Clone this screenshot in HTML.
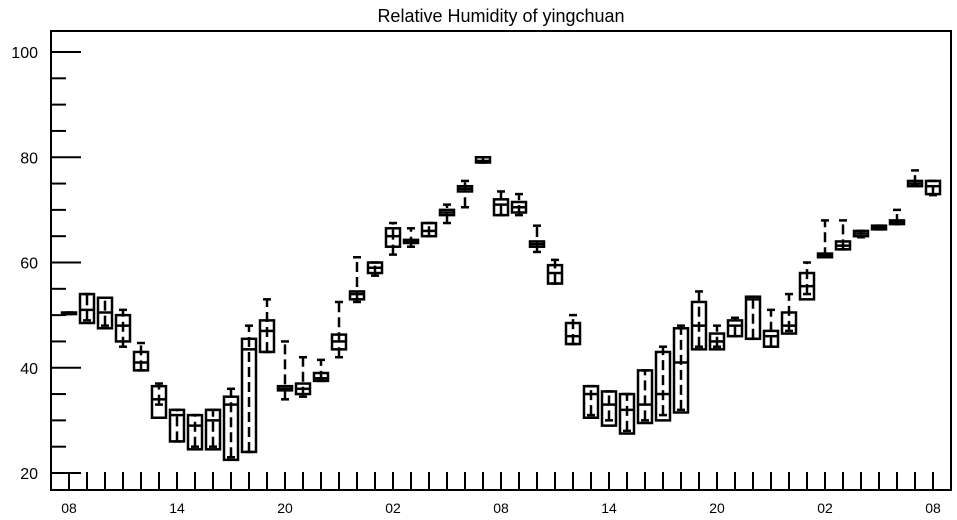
<!DOCTYPE html>
<html><head><meta charset="utf-8"><style>
body{margin:0;background:#fff}
svg{display:block;font-family:"Liberation Sans",sans-serif}
</style></head><body>
<svg id="c" width="957" height="520"></svg>
<script>
const hourLabels=["08","14","20","02","08","14","20","02","08"];
const yTicks=[20,40,60,80,100];
const boxLo=[50.2,48.5,47.5,45,39.5,30.5,26,24.5,24.5,22.5,24,43,35.7,35,37.5,43.5,53,58,63,63.7,65,69,73.5,79,69,69.5,63,56,44.5,30.5,29,27.5,29.5,30,31.5,43.5,43.5,46,45.5,44,46.5,53,61,62.5,65,66.3,67.3,74.5,73];
const boxHi=[50.5,54,53.3,50,43,36.5,32,31,32,34.5,45.5,49,36.5,37,39,46.3,54.5,60,66.5,64.3,67.5,70,74.5,80,72,71.5,64,59.5,48.5,36.5,35.5,35,39.5,43,47.5,52.5,46.5,49,53.5,47,50.5,58,61.7,64,66,67,68,75.5,75.5];
const medians=[50.3,51,50.5,48,41,34,31,29,30,33,43.5,47,36,36,38,45,54,59,65,64,66,69.5,74,79.3,71,70.5,63.5,58,46,35,33,32,33,35,41,48,45,48,53,46,48,55.5,61.3,63.2,65.5,66.6,67.6,75,74.5];
const whiskLo=[50.2,49,48,44,39.5,33,26,25,25,23,24,43,34,34.5,37.5,42,52.5,57.5,61.5,63,65,67.5,70.5,79,69,69,62,56,44.5,31,30,28,30,31,32,44,44,46,45.5,44,47,54,61,62.5,64.8,66.3,67.3,74.7,72.8];
const whiskHi=[50.5,54,53.3,51,44.7,37,32,31,32,36,48,53,45,42,41.5,52.5,61,60,67.5,66.5,67.5,71,75.5,80,73.5,73,67,60.5,50,36.5,35.5,35,39.5,44,48,54.5,48,49.5,53.5,51,54,60,68,68,66,67,70,77.5,75.5];
const NS="http://www.w3.org/2000/svg";
const svg=document.getElementById('c');
const L=51,R=951,T=31,B=490;
function yS(v){return 473-(v-20)*5.2625;}
function xS(i){return 69+18*i;}
function mk(t,a,p){const e=document.createElementNS(NS,t);for(const k in a)e.setAttribute(k,a[k]);(p||svg).appendChild(e);return e;}
const title=mk('text',{x:501,y:22,'text-anchor':'middle','font-size':18});
title.textContent='Relative Humidity of yingchuan';


const frame=mk('rect',{x:L,y:T,width:R-L,height:B-T,fill:'none',stroke:'#000','stroke-width':2});


for(let v=20;v<=100;v+=5){
  const major=v%20===0;
  const t=mk('line',{x1:L,x2:L+(major?30:15),y1:yS(v),y2:yS(v),stroke:'#000','stroke-width':2});
  
  
}
yTicks.forEach(v=>{
  const t=mk('text',{x:38,y:yS(v)+6,'text-anchor':'end','font-size':16});
  t.textContent=v;
  
  
});
for(let i=0;i<49;i++){
  const t=mk('line',{x1:xS(i),x2:xS(i),y1:B,y2:B-18,stroke:'#000','stroke-width':2});
  
  
}
hourLabels.forEach((h,j)=>{
  const t=mk('text',{x:xS(j*6),y:513,'text-anchor':'middle','font-size':14});
  t.textContent=h;
  
  
});
for(let i=0;i<boxLo.length;i++){
  const g=mk('g',{});
  
  
  const x=xS(i);
  mk('line',{x1:x,x2:x,y1:yS(whiskLo[i]),y2:yS(whiskHi[i]),stroke:'#000','stroke-width':2.5,'stroke-dasharray':'10,5'},g);
  mk('line',{x1:x-4,x2:x+4,y1:yS(whiskHi[i]),y2:yS(whiskHi[i]),stroke:'#000','stroke-width':2.5},g);
  mk('line',{x1:x-4,x2:x+4,y1:yS(whiskLo[i]),y2:yS(whiskLo[i]),stroke:'#000','stroke-width':2.5},g);
  const y1=yS(boxHi[i]),y2=yS(boxLo[i]);
  mk('rect',{x:x-7,y:y1,width:14,height:Math.max(1,y2-y1),fill:'none',stroke:'#000','stroke-width':2.5},g);
  mk('line',{x1:x-7,x2:x+7,y1:yS(medians[i]),y2:yS(medians[i]),stroke:'#000','stroke-width':2.5},g);
}
</script>
</body></html>
